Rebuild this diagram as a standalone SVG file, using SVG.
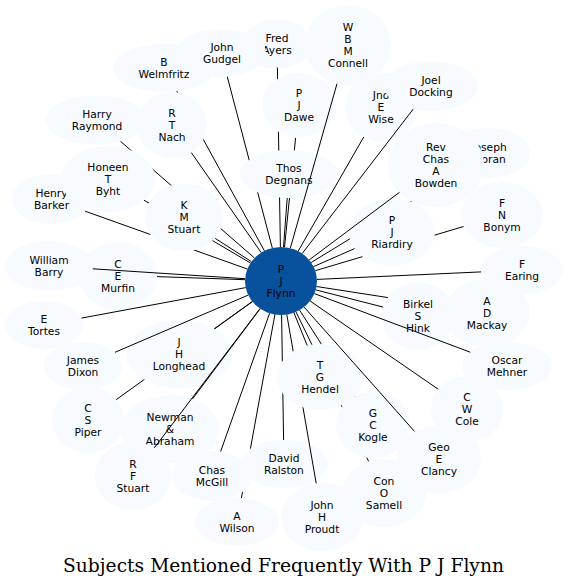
<svg xmlns="http://www.w3.org/2000/svg" width="569" height="587" viewBox="0 0 569 587">
<style>
.n ellipse{fill:#f7fbff}
.c ellipse{fill:#08519c}
text{font-family:"DejaVu Sans","Liberation Sans",sans-serif;font-size:10.7px;text-anchor:middle;fill:#000}
text.title{font-family:"DejaVu Serif","Liberation Serif",serif;font-size:18.7px}
#connectors line{stroke:#000;stroke-width:1}
</style>
<defs>
<mask id="m-nach" maskUnits="userSpaceOnUse" x="0" y="0" width="569" height="587"><rect width="569" height="587" fill="#fff"/><ellipse cx="172" cy="125" rx="35" ry="33"/></mask>
<mask id="m-dawe-degnans" maskUnits="userSpaceOnUse" x="0" y="0" width="569" height="587"><rect width="569" height="587" fill="#fff"/><ellipse cx="299" cy="105" rx="37" ry="32"/><ellipse cx="289" cy="174" rx="49" ry="24"/></mask>
<mask id="m-degnans" maskUnits="userSpaceOnUse" x="0" y="0" width="569" height="587"><rect width="569" height="587" fill="#fff"/><ellipse cx="289" cy="174" rx="49" ry="24"/></mask>
<mask id="m-honeen-kms" maskUnits="userSpaceOnUse" x="0" y="0" width="569" height="587"><rect width="569" height="587" fill="#fff"/><ellipse cx="108" cy="179" rx="47" ry="33"/><ellipse cx="184" cy="217.5" rx="39" ry="34"/></mask>
<mask id="m-kms" maskUnits="userSpaceOnUse" x="0" y="0" width="569" height="587"><rect width="569" height="587" fill="#fff"/><ellipse cx="184" cy="217.5" rx="39" ry="34"/></mask>
<mask id="m-riardiry-bowden" maskUnits="userSpaceOnUse" x="0" y="0" width="569" height="587"><rect width="569" height="587" fill="#fff"/><ellipse cx="392" cy="232" rx="43" ry="34"/><ellipse cx="436" cy="165" rx="48" ry="42"/></mask>
<mask id="m-riardiry" maskUnits="userSpaceOnUse" x="0" y="0" width="569" height="587"><rect width="569" height="587" fill="#fff"/><ellipse cx="392" cy="232" rx="43" ry="34"/></mask>
<mask id="m-hink" maskUnits="userSpaceOnUse" x="0" y="0" width="569" height="587"><rect width="569" height="587" fill="#fff"/><ellipse cx="418" cy="316" rx="36" ry="34"/></mask>
<mask id="m-ralston-mcgill" maskUnits="userSpaceOnUse" x="0" y="0" width="569" height="587"><rect width="569" height="587" fill="#fff"/><ellipse cx="284" cy="464" rx="44" ry="24"/><ellipse cx="212" cy="476" rx="40" ry="25"/></mask>
<mask id="m-hendel" maskUnits="userSpaceOnUse" x="0" y="0" width="569" height="587"><rect width="569" height="587" fill="#fff"/><ellipse cx="320" cy="377" rx="43" ry="33"/></mask>
<mask id="m-hendel-kogle" maskUnits="userSpaceOnUse" x="0" y="0" width="569" height="587"><rect width="569" height="587" fill="#fff"/><ellipse cx="320" cy="377" rx="43" ry="33"/><ellipse cx="373" cy="425" rx="37" ry="33"/></mask>
<mask id="m-longhead" maskUnits="userSpaceOnUse" x="0" y="0" width="569" height="587"><rect width="569" height="587" fill="#fff"/><ellipse cx="179" cy="354" rx="53" ry="34"/></mask>
</defs>
<rect width="569" height="587" fill="#fff"/>
<g id="nodes">
<g id="n-flynn" class="c"><ellipse cx="281" cy="281" rx="36" ry="34"/><text y="272.5"><tspan x="281">P</tspan><tspan x="281" dy="12">J</tspan><tspan x="281" dy="12">Flynn</tspan></text></g>
<g id="n-welmfritz" class="n"><ellipse cx="164" cy="68" rx="51" ry="24"/><text y="65.5"><tspan x="164">B</tspan><tspan x="164" dy="12">Welmfritz</tspan></text></g>
<g id="n-ayers" class="n"><ellipse cx="277" cy="44" rx="35" ry="24.5"/><text y="41.5"><tspan x="277">Fred</tspan><tspan x="277" dy="12">Ayers</tspan></text></g>
<g id="n-gudgel" class="n"><ellipse cx="221" cy="53" rx="45" ry="24"/><text y="50.5"><tspan x="222">John</tspan><tspan x="222" dy="12">Gudgel</tspan></text></g>
<g id="n-dawe" class="n"><ellipse cx="299" cy="105" rx="37" ry="32"/><text y="96.5"><tspan x="299">P</tspan><tspan x="299" dy="12">J</tspan><tspan x="299" dy="12">Dawe</tspan></text></g>
<g id="n-degnans" class="n"><ellipse cx="289" cy="174" rx="49" ry="24"/><text y="171.5"><tspan x="289">Thos</tspan><tspan x="289" dy="12">Degnans</tspan></text></g>
<g id="n-connell" class="n"><ellipse cx="348" cy="45" rx="43" ry="40"/><text y="30.5"><tspan x="348">W</tspan><tspan x="348" dy="12">B</tspan><tspan x="348" dy="12">M</tspan><tspan x="348" dy="12">Connell</tspan></text></g>
<g id="n-wise" class="n"><ellipse cx="381" cy="107" rx="36" ry="34"/><text y="98.5"><tspan x="381">Jno</tspan><tspan x="381" dy="12">E</tspan><tspan x="381" dy="12">Wise</tspan></text></g>
<g id="n-docking" class="n"><ellipse cx="431" cy="86" rx="47" ry="25"/><text y="83.5"><tspan x="431">Joel</tspan><tspan x="431" dy="12">Docking</tspan></text></g>
<g id="n-nach" class="n"><ellipse cx="172" cy="125" rx="35" ry="33"/><text y="116.5"><tspan x="172">R</tspan><tspan x="172" dy="12">T</tspan><tspan x="172" dy="12">Nach</tspan></text></g>
<g id="n-raymond" class="n"><ellipse cx="96" cy="120" rx="50" ry="24.5"/><text y="117.5"><tspan x="97">Harry</tspan><tspan x="97" dy="12">Raymond</tspan></text></g>
<g id="n-barker" class="n"><ellipse cx="51" cy="199" rx="39" ry="25"/><text y="196.5"><tspan x="51.5">Henry</tspan><tspan x="51.5" dy="12">Barker</tspan></text></g>
<g id="n-honeen" class="n"><ellipse cx="108" cy="179" rx="47" ry="33"/><text y="170.5"><tspan x="108">Honeen</tspan><tspan x="108" dy="12">T</tspan><tspan x="108" dy="12">Byht</tspan></text></g>
<g id="n-kmstuart" class="n"><ellipse cx="184" cy="217.5" rx="39" ry="34"/><text y="209"><tspan x="184">K</tspan><tspan x="184" dy="12">M</tspan><tspan x="184" dy="12">Stuart</tspan></text></g>
<g id="n-moran" class="n"><ellipse cx="489" cy="153" rx="41" ry="25"/><text y="150.5"><tspan x="489">Joseph</tspan><tspan x="489" dy="12">Moran</tspan></text></g>
<g id="n-bonym" class="n"><ellipse cx="502" cy="215" rx="41" ry="33"/><text y="206.5"><tspan x="502">F</tspan><tspan x="502" dy="12">N</tspan><tspan x="502" dy="12">Bonym</tspan></text></g>
<g id="n-riardiry" class="n"><ellipse cx="392" cy="232" rx="43" ry="34"/><text y="223.5"><tspan x="392">P</tspan><tspan x="392" dy="12">J</tspan><tspan x="392" dy="12">Riardiry</tspan></text></g>
<g id="n-bowden" class="n"><ellipse cx="436" cy="165" rx="48" ry="42"/><text y="150.5"><tspan x="436">Rev</tspan><tspan x="436" dy="12">Chas</tspan><tspan x="436" dy="12">A</tspan><tspan x="436" dy="12">Bowden</tspan></text></g>
<g id="n-earing" class="n"><ellipse cx="522" cy="270" rx="41" ry="24"/><text y="267.5"><tspan x="522">F</tspan><tspan x="522" dy="12">Earing</tspan></text></g>
<g id="n-mackay" class="n"><ellipse cx="487" cy="313" rx="43" ry="34"/><text y="304.5"><tspan x="487">A</tspan><tspan x="487" dy="12">D</tspan><tspan x="487" dy="12">Mackay</tspan></text></g>
<g id="n-hink" class="n"><ellipse cx="418" cy="316" rx="36" ry="34"/><text y="307.5"><tspan x="418">Birkel</tspan><tspan x="418" dy="12">S</tspan><tspan x="418" dy="12">Hink</tspan></text></g>
<g id="n-mehner" class="n"><ellipse cx="507" cy="366" rx="45" ry="24"/><text y="363.5"><tspan x="507">Oscar</tspan><tspan x="507" dy="12">Mehner</tspan></text></g>
<g id="n-cole" class="n"><ellipse cx="467" cy="409" rx="36" ry="33"/><text y="400.5"><tspan x="467">C</tspan><tspan x="467" dy="12">W</tspan><tspan x="467" dy="12">Cole</tspan></text></g>
<g id="n-wilson" class="n"><ellipse cx="237" cy="522" rx="42" ry="24"/><text y="519.5"><tspan x="237">A</tspan><tspan x="237" dy="12">Wilson</tspan></text></g>
<g id="n-mcgill" class="n"><ellipse cx="212" cy="476" rx="40" ry="25"/><text y="473.5"><tspan x="212">Chas</tspan><tspan x="212" dy="12">McGill</tspan></text></g>
<g id="n-ralston" class="n"><ellipse cx="284" cy="464" rx="44" ry="24"/><text y="461.5"><tspan x="284">David</tspan><tspan x="284" dy="12">Ralston</tspan></text></g>
<g id="n-proudt" class="n"><ellipse cx="322" cy="517" rx="41" ry="34"/><text y="508.5"><tspan x="322">John</tspan><tspan x="322" dy="12">H</tspan><tspan x="322" dy="12">Proudt</tspan></text></g>
<g id="n-samell" class="n"><ellipse cx="384" cy="493" rx="42" ry="34"/><text y="484.5"><tspan x="384">Con</tspan><tspan x="384" dy="12">O</tspan><tspan x="384" dy="12">Samell</tspan></text></g>
<g id="n-kogle" class="n"><ellipse cx="373" cy="425" rx="37" ry="33"/><text y="416.5"><tspan x="373">G</tspan><tspan x="373" dy="12">C</tspan><tspan x="373" dy="12">Kogle</tspan></text></g>
<g id="n-hendel" class="n"><ellipse cx="320" cy="377" rx="43" ry="33"/><text y="368.5"><tspan x="320">T</tspan><tspan x="320" dy="12">G</tspan><tspan x="320" dy="12">Hendel</tspan></text></g>
<g id="n-clancy" class="n"><ellipse cx="439" cy="459" rx="42" ry="34"/><text y="450.5"><tspan x="439">Geo</tspan><tspan x="439" dy="12">E</tspan><tspan x="439" dy="12">Clancy</tspan></text></g>
<g id="n-piper" class="n"><ellipse cx="88" cy="420" rx="36" ry="33"/><text y="411.5"><tspan x="88">C</tspan><tspan x="88" dy="12">S</tspan><tspan x="88" dy="12">Piper</tspan></text></g>
<g id="n-longhead" class="n"><ellipse cx="179" cy="354" rx="53" ry="34"/><text y="345.5"><tspan x="179">J</tspan><tspan x="179" dy="12">H</tspan><tspan x="179" dy="12">Longhead</tspan></text></g>
<g id="n-newman" class="n"><ellipse cx="170" cy="429" rx="49" ry="34"/><text y="420.5"><tspan x="170">Newman</tspan><tspan x="170" dy="12">&amp;</tspan><tspan x="170" dy="12">Abraham</tspan></text></g>
<g id="n-rfstuart" class="n"><ellipse cx="133" cy="476" rx="38" ry="34"/><text y="467.5"><tspan x="133">R</tspan><tspan x="133" dy="12">F</tspan><tspan x="133" dy="12">Stuart</tspan></text></g>
<g id="n-dixon" class="n"><ellipse cx="83" cy="366" rx="39" ry="24"/><text y="363.5"><tspan x="83">James</tspan><tspan x="83" dy="12">Dixon</tspan></text></g>
<g id="n-tortes" class="n"><ellipse cx="44" cy="325" rx="39" ry="24"/><text y="322.5"><tspan x="44">E</tspan><tspan x="44" dy="12">Tortes</tspan></text></g>
<g id="n-murfin" class="n"><ellipse cx="118" cy="276" rx="39" ry="34"/><text y="267.5"><tspan x="118">C</tspan><tspan x="118" dy="12">E</tspan><tspan x="118" dy="12">Murfin</tspan></text></g>
<g id="n-wbarry" class="n"><ellipse cx="49" cy="266" rx="44" ry="25"/><text y="263.5"><tspan x="49">William</tspan><tspan x="49" dy="12">Barry</tspan></text></g>
</g>
<g id="connectors">
<line x1="264.4" y1="250.8" x2="176.8" y2="91.2" mask="url(#m-nach)"/>
<line x1="280.4" y1="247" x2="277.4" y2="67.5" mask="url(#m-dawe-degnans)"/>
<line x1="272.3" y1="248" x2="227.3" y2="76.8" mask="url(#m-degnans)"/>
<line x1="284.5" y1="247.2" x2="295.6" y2="137.9" mask="url(#m-degnans)"/>
<line x1="283.5" y1="247.1" x2="287.2" y2="198"/>
<line x1="290.3" y1="248.2" x2="337" y2="83.7"/>
<line x1="298.2" y1="251.1" x2="363.8" y2="136.9"/>
<line x1="302.2" y1="253.5" x2="413.2" y2="109.1"/>
<line x1="261.2" y1="252.6" x2="191.3" y2="152.6"/>
<line x1="254.5" y1="258" x2="120.5" y2="141.3" mask="url(#m-honeen-kms)"/>
<line x1="247.3" y1="269" x2="85.1" y2="211.2" mask="url(#m-kms)"/>
<line x1="250.5" y1="263" x2="144" y2="200.2" mask="url(#m-kms)"/>
<line x1="251.4" y1="261.6" x2="215.2" y2="238.4"/>
<line x1="311.2" y1="262.5" x2="461.1" y2="170.7" mask="url(#m-riardiry-bowden)"/>
<line x1="315.3" y1="270.7" x2="463.6" y2="226.5" mask="url(#m-riardiry)"/>
<line x1="313.6" y1="266.6" x2="354.5" y2="248.6"/>
<line x1="309.2" y1="259.9" x2="399.5" y2="192.3"/>
<line x1="317" y1="279.4" x2="481.1" y2="271.9"/>
<line x1="316.5" y1="286.5" x2="444.8" y2="306.4" mask="url(#m-hink)"/>
<line x1="315.8" y1="289.9" x2="383.2" y2="307.1"/>
<line x1="314.4" y1="293.6" x2="470.2" y2="352.2"/>
<line x1="310.1" y1="301" x2="438.2" y2="389.2"/>
<line x1="274.9" y1="314.5" x2="241.4" y2="498.1" mask="url(#m-ralston-mcgill)"/>
<line x1="269.6" y1="313.3" x2="220.6" y2="451.6"/>
<line x1="281.6" y1="315" x2="283.6" y2="440" mask="url(#m-hendel)"/>
<line x1="286.8" y1="314.6" x2="316.2" y2="483.3" mask="url(#m-hendel)"/>
<line x1="296" y1="311.9" x2="368.6" y2="461.3" mask="url(#m-hendel-kogle)"/>
<line x1="299.6" y1="310.1" x2="354.7" y2="396.3" mask="url(#m-hendel)"/>
<line x1="293.9" y1="312.7" x2="307.2" y2="345.5"/>
<line x1="304.1" y1="307.1" x2="414.5" y2="431.4"/>
<line x1="252.4" y1="301.6" x2="116.3" y2="399.6" mask="url(#m-longhead)"/>
<line x1="252.3" y1="301.5" x2="214.4" y2="328.7"/>
<line x1="260.2" y1="308.7" x2="192.6" y2="398.8"/>
<line x1="260" y1="308.6" x2="154.3" y2="447.9"/>
<line x1="248.2" y1="295.1" x2="115" y2="352.3"/>
<line x1="245.7" y1="287.6" x2="81.4" y2="318.1"/>
<line x1="245" y1="279.7" x2="157" y2="276.6"/>
<line x1="245.1" y1="278.7" x2="92.7" y2="268.8"/>
</g>
<text class="title" x="283.5" y="572">Subjects Mentioned Frequently With P J Flynn</text>
</svg>
